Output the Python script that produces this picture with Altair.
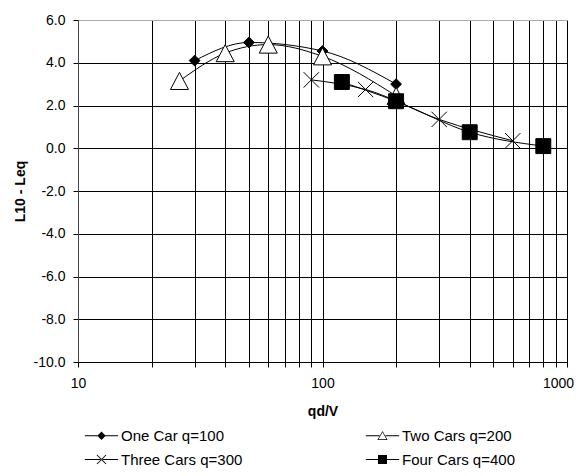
import altair as alt
import pandas as pd

series_names = ["One Car q=100", "Two Cars q=200", "Three Cars q=300", "Four Cars q=400"]

one_x = [30, 50, 100, 200]
one_y = [4.1, 4.95, 4.55, 3.0]
two_x = [26, 40, 60, 100, 200]
two_y = [3.15, 4.45, 4.85, 4.3, 2.45]
three_x = [90, 150, 300, 600]
three_y = [3.2, 2.75, 1.35, 0.35]
four_x = [120, 200, 400, 800]
four_y = [3.1, 2.2, 0.75, 0.1]

x_ticks = [10, 20, 30, 40, 50, 60, 70, 80, 90,
           100, 200, 300, 400, 500, 600, 700, 800, 900, 1000]
y_ticks = [-10, -8, -6, -4, -2, 0, 2, 4, 6]

rows = []
for name, xs, ys in zip(series_names, [one_x, two_x, three_x, four_x],
                        [one_y, two_y, three_y, four_y]):
    for i, (xv, yv) in enumerate(zip(xs, ys)):
        rows.append({"series": name, "x": xv, "y": yv, "order": i})
df = pd.DataFrame(rows)

marker_paths = [
    "M0,-0.6L0.6,0L0,0.6L-0.6,0Z",
    "M0,-0.95L1,0.95L-1,0.95Z",
    "M-0.85,-0.85L0.85,0.85M0.85,-0.85L-0.85,0.85",
    "M-0.83,-0.83L0.83,-0.83L0.83,0.83L-0.83,0.83Z",
]
marker_fills = ["black", "white", "black", "black"]

# legend symbols drawn as filled shapes: thin bar (line) + marker
LINE = "M-2.78,-0.085L2.78,-0.085L2.78,0.085L-2.78,0.085Z"
legend_paths = [
    LINE + "M0,-0.7L0.7,0L0,0.7L-0.7,0Z",
    "M-2.78,-0.085L-0.5,-0.085L-0.5,0.085L-2.78,0.085Z"
    "M0.5,-0.085L2.78,-0.085L2.78,0.085L0.5,0.085Z"
    "M0,-0.8L0.85,0.7L-0.85,0.7ZM0,-0.6L-0.66,0.57L0.66,0.57Z",
    LINE + "M-0.807,-0.693L0.693,0.807L0.807,0.693L-0.693,-0.807Z"
    "M0.693,-0.807L-0.807,0.693L-0.693,0.807L0.807,-0.693Z",
    LINE + "M-0.75,-0.75L0.75,-0.75L0.75,0.75L-0.75,0.75Z",
]

FONT = "Liberation Sans"

x_enc = alt.X(
    "x:Q",
    scale=alt.Scale(type="log", domain=[10, 1000], nice=False),
    axis=alt.Axis(
        values=x_ticks,
        format="d",
        labelExpr="(datum.value == 10 || datum.value == 100 || datum.value == 1000) ? datum.label : ''",
        labelOffset={"condition": {"test": "datum.value == 1000", "value": -9}, "value": 0},
        title="qd/V",
        titleFont=FONT, titleFontSize=14, titleFontWeight="bold", titleColor="black",
        titleX=244.5, titleY=49, titleBaseline="middle", titleAlign="center",
        labelFont=FONT, labelFontSize=14, labelColor="black", labelPadding=9,
        labelFlush=False, labelOverlap=False,
        tickSize=5, tickColor="black", domainColor="black",
        grid=True, gridColor="black", gridWidth=1,
    ),
)
y_enc = alt.Y(
    "y:Q",
    scale=alt.Scale(domain=[-10, 6], nice=False, zero=False),
    axis=alt.Axis(
        values=y_ticks,
        format=".1f",
        labelExpr="replace(datum.label, '\u2212', '-')",
        title="L10 - Leq",
        titleFont=FONT, titleFontSize=14, titleFontWeight="bold", titleColor="black",
        titleX=-58, titleY=171, titleAlign="center", titleBaseline="middle", titleAngle=270,
        labelFont=FONT, labelFontSize=14, labelColor="black", labelPadding=8,
        tickSize=5, tickColor="black", domainColor="#444444",
        grid=True,
        gridColor={"condition": {"test": "datum.value == 6", "value": "#aaaaaa"}, "value": "black"},
        gridWidth=1,
    ),
)

base = alt.Chart(df)

lines = base.mark_line(interpolate="monotone", color="black", strokeWidth=1).encode(
    x=x_enc, y=y_enc, detail="series:N", order="order:Q"
)

points = base.mark_point(filled=True, size=324, stroke="black", strokeWidth=1, opacity=1).encode(
    x=x_enc,
    y=y_enc,
    shape=alt.Shape("series:N", scale=alt.Scale(domain=series_names, range=marker_paths), legend=None),
    fill=alt.Fill("series:N", scale=alt.Scale(domain=series_names, range=marker_fills), legend=None),
)

legend_layer = base.transform_filter("false").mark_point(
    filled=True, fill="black", strokeWidth=0
).encode(
    x=x_enc,
    y=y_enc,
    shape=alt.Shape(
        "series:N",
        scale=alt.Scale(domain=series_names, range=legend_paths),
        legend=alt.Legend(
            title=None,
            orient="none",
            direction="horizontal",
            legendX=16,
            legendY=408,
            columns=2,
            columnPadding=122,
            rowPadding=8,
            padding=0,
            symbolSize=144,
            symbolFillColor="black",
            symbolStrokeWidth=0,
            symbolOpacity=1,
            labelFont=FONT,
            labelFontSize=15,
            labelColor="black",
            labelOffset=12,
            labelLimit=300,
        ),
    ),
)

chart = (
    alt.layer(lines, points, legend_layer)
    .resolve_scale(shape="independent", fill="independent")
    .properties(
        width=489,
        height=342,
        autosize="none",
        padding={"left": 70, "top": 12, "right": 7, "bottom": 106},
    )
    .configure_view(stroke=None)
    .configure(background="white")
)

chart.save("out.html", embed_options={"renderer": "svg", "actions": False})
